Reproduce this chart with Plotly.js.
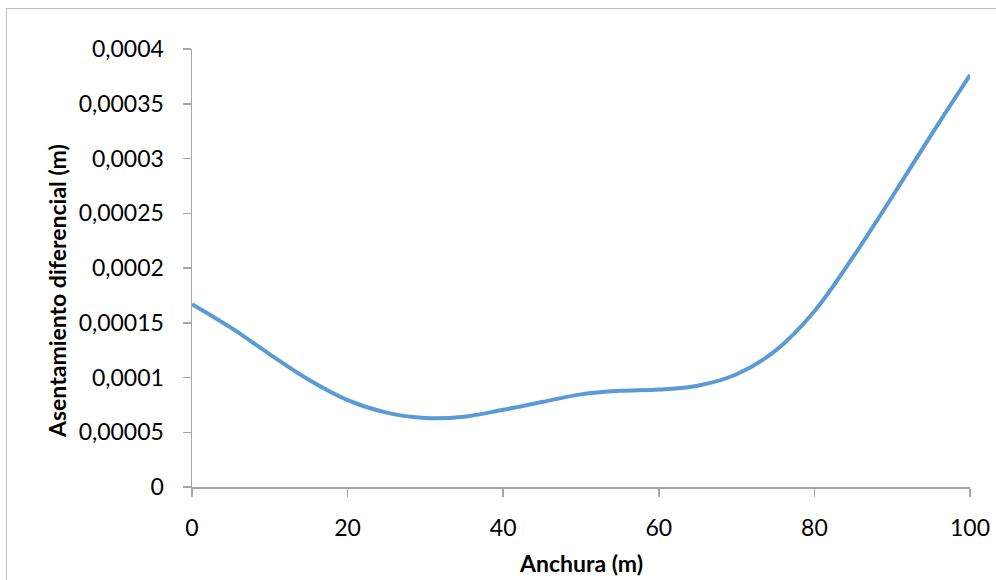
<!DOCTYPE html>
<html>
<head>
<meta charset="utf-8">
<script src="https://cdn.plot.ly/plotly-3.0.1.min.js"></script>
<style>
  html, body { margin: 0; padding: 0; background: #fff; }
  #wrap { position: relative; width: 996px; height: 580px; overflow: hidden; }
  #frame { position: absolute; left: 6px; top: 8px; width: 1000px; height: 600px;
           border-left: 1px solid #BFBFBF; border-top: 1px solid #BFBFBF; box-sizing: border-box; }
  #chart { position: absolute; left: 0; top: 0; width: 996px; height: 580px; }
</style>
</head>
<body>
<div id="wrap">
  <div id="frame"></div>
  <div id="chart"></div>
</div>
<script>
const anchura = [0, 5, 10, 15, 20, 25, 30, 35, 40, 45, 50, 55, 60, 65, 70, 75, 80, 85, 90, 95, 100];
const asentamiento = [0.000167, 0.0001455, 0.0001212, 0.0000980, 0.0000794, 0.0000679, 0.0000630, 0.0000642, 0.0000705,
                      0.0000776, 0.0000846, 0.0000878, 0.0000890, 0.0000925, 0.0001030, 0.0001245, 0.0001605,
                      0.0002103, 0.0002651, 0.0003214, 0.0003762];
const yTickVals = [0, 0.00005, 0.0001, 0.00015, 0.0002, 0.00025, 0.0003, 0.00035, 0.0004];
const yTickText = ["0", "0,00005", "0,0001", "0,00015", "0,0002", "0,00025", "0,0003", "0,00035", "0,0004"];
const xTickVals = [0, 20, 40, 60, 80, 100];
const xTickText = ["0", "20", "40", "60", "80", "100"];
const xTitle = "Anchura (m)";
const yTitle = "Asentamiento diferencial (m)";

const font = "Lato, 'Open Sans', sans-serif";
const axisColor = "#A6A6A6";

const trace = {
  x: anchura,
  y: asentamiento,
  type: "scatter",
  mode: "lines",
  line: { color: "#5B9BD5", width: 4, shape: "spline", smoothing: 1 },
  hoverinfo: "x+y"
};

const layout = {
  width: 996,
  height: 580,
  paper_bgcolor: "rgba(0,0,0,0)",
  plot_bgcolor: "rgba(0,0,0,0)",
  showlegend: false,
  margin: { l: 192, r: 26, t: 49, b: 93 },
  font: { family: font, color: "#000", size: 23 },
  xaxis: {
    range: [0, 100],
    tickvals: xTickVals,
    ticktext: xTickText,
    ticks: "outside",
    ticklen: 8,
    tickwidth: 1.5,
    tickcolor: axisColor,
    showline: true,
    linecolor: axisColor,
    linewidth: 1.5,
    showgrid: false,
    zeroline: false,
    tickfont: { family: font, size: 23, color: "#000" },
    ticklabelstandoff: 12,
    fixedrange: true
  },
  yaxis: {
    range: [0, 0.0004],
    tickvals: yTickVals,
    ticktext: yTickText,
    ticks: "outside",
    ticklen: 8,
    tickwidth: 1.5,
    tickcolor: axisColor,
    showline: true,
    linecolor: axisColor,
    linewidth: 1.5,
    showgrid: false,
    zeroline: false,
    tickfont: { family: font, size: 23, color: "#000" },
    ticklabelstandoff: 14,
    fixedrange: true
  },
  annotations: [
    {
      text: "<b>" + xTitle + "</b>",
      xref: "paper", yref: "paper",
      x: 0.5, y: -(563 - 487) / 438,
      xanchor: "center", yanchor: "middle",
      showarrow: false,
      font: { family: font, size: 23, color: "#000" }
    },
    {
      text: "<b>" + yTitle + "</b>",
      xref: "paper", yref: "paper",
      x: (57 - 192) / 778, y: (487 - 291) / 438,
      xanchor: "center", yanchor: "middle",
      textangle: -90,
      showarrow: false,
      font: { family: font, size: 23, color: "#000" }
    }
  ]
};

Plotly.newPlot("chart", [trace], layout, { displayModeBar: false, staticPlot: true });
</script>
</body>
</html>
